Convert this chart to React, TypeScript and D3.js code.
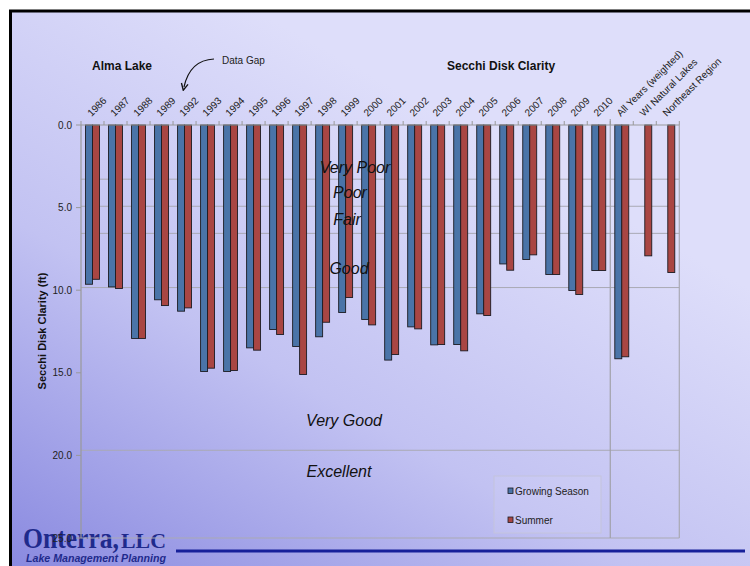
import React from "react";
import * as d3 from "d3";

// Secchi disk clarity (ft), Alma Lake
const categories = [
  "1986", "1987", "1988", "1989", "1992", "1993", "1994", "1995", "1996", "1997",
  "1998", "1999", "2000", "2001", "2002", "2003", "2004", "2005", "2006", "2007",
  "2008", "2009", "2010", "All Years (weighted)", "WI Natural Lakes", "Northeast Region",
];
const growingSeason: (number | null)[] = [
  9.64, 9.8, 12.92, 10.58, 11.27, 14.92, 14.92, 13.49, 12.38, 13.41,
  12.82, 11.35, 11.77, 14.23, 12.22, 13.31, 13.29, 11.43, 8.41, 8.14,
  9.05, 10.02, 8.81, 14.15, null, null,
];
const summer: (number | null)[] = [
  9.34, 9.9, 12.92, 10.93, 11.07, 14.72, 14.86, 13.63, 12.68, 15.1,
  11.94, 10.44, 12.1, 13.89, 12.34, 13.29, 13.67, 11.53, 8.79, 7.86,
  9.05, 10.26, 8.81, 14.03, 7.92, 8.93,
];
const seriesNames = ["Growing Season", "Summer"];
const yTicks = [0, 5, 10, 15, 20, 25];
// Trophic class boundaries: 1, 1.5, 2, 3 and 6 m expressed in feet
const classBoundaries = [3.28, 4.92, 6.56, 9.84, 19.69];
const classNames = ["Very Poor", "Poor", "Fair", "Good", "Very Good", "Excellent"];

const W = 750;
const H = 566;
const plot = { left: 81, right: 679.3, top: 125, bottom: 538 };
const colors = ["#4a74a8", "#a94643"];
const font = "Arial, 'Liberation Sans', Helvetica, sans-serif";
const serif = "'Liberation Serif', 'DejaVu Serif', serif";

// where each class label sits: depth (ft) and horizontal centre
const classLabelPos = [
  { d: 2.55, x: 355 },
  { d: 4.1, x: 350 },
  { d: 5.75, x: 347 },
  { d: 8.7, x: 349 },
  { d: 17.9, x: 344 },
  { d: 21.0, x: 339 },
];

export default function App() {
  const x = d3.scaleBand<string>().domain(categories).range([plot.left, plot.right]).padding(0);
  const xs = d3
    .scaleBand<string>()
    .domain(seriesNames)
    .range([0, x.bandwidth()])
    .paddingInner(0)
    .paddingOuter(0.65);
  const y = d3.scaleLinear().domain([0, 25]).range([plot.top, plot.bottom]);

  const seriesData = [growingSeason, summer];
  const nYears = categories.indexOf("All Years (weighted)");
  const sepX = x(categories[nYears])!;

  return (
    <svg
      width={W}
      height={H}
      style={{ position: "absolute", left: 0, top: 0, display: "block" }}
      fontFamily={font}
    >
      <defs>
        <linearGradient id="bg" x1="0" y1="1" x2="0.6" y2="0.2">
          <stop offset="0" stopColor="#8a8ae0" />
          <stop offset="0.5" stopColor="#c2c2f2" />
          <stop offset="1" stopColor="#dedefa" />
        </linearGradient>
        <marker id="arrow" viewBox="0 0 10 10" refX="5" refY="5" markerWidth="7" markerHeight="7" orient="auto">
          <path d="M1,1 L9,5 L1,9" fill="none" stroke="#111" strokeWidth="1.6" />
        </marker>
      </defs>

      <rect x={0} y={0} width={W} height={H} fill="#ffffff" />
      <rect x={11} y={11} width={W - 11} height={H - 11} fill="url(#bg)" />
      <line x1={9} x2={W} y1={11} y2={11} stroke="#000" strokeWidth={3} />
      <line x1={10.5} x2={10.5} y1={10} y2={H} stroke="#000" strokeWidth={3} />

      {/* company mark */}
      <g fill="#1f2a8c">
        <text x={23} y={548} fontFamily={serif} fontWeight="bold" fontSize={30} textLength={96} lengthAdjust="spacingAndGlyphs">
          Onterra,
        </text>
        <text x={121} y={548} fontFamily={serif} fontWeight="bold" fontSize={21} textLength={45} lengthAdjust="spacingAndGlyphs">
          LLC
        </text>
        <text x={26} y={562} fontWeight="bold" fontStyle="italic" fontSize={11} textLength={140} lengthAdjust="spacingAndGlyphs">
          Lake Management Planning
        </text>
      </g>
      <line x1={176} x2={745} y1={551} y2={551} stroke="#17209a" strokeWidth={3} />

      {/* titles */}
      <text x={92} y={70} fontSize={12} fontWeight="bold" fill="#111">Alma Lake</text>
      <text x={447} y={70} fontSize={12} fontWeight="bold" fill="#111">Secchi Disk Clarity</text>
      <text x={222} y={64} fontSize={10} fill="#222">Data Gap</text>
      <path d="M214,59 Q190,60 184,87" fill="none" stroke="#111" strokeWidth={1.2} markerEnd="url(#arrow)" />

      {/* class boundary lines */}
      {classBoundaries.map((b, i) => (
        <line key={i} x1={plot.left} x2={plot.right} y1={y(b)} y2={y(b)} stroke="#a9a9b4" strokeWidth={1} />
      ))}

      {/* plot frame */}
      <line x1={plot.left} x2={plot.right} y1={plot.bottom} y2={plot.bottom} stroke="#a9a9b4" strokeWidth={1.2} />
      <line x1={plot.right} x2={plot.right} y1={plot.top} y2={plot.bottom} stroke="#a9a9b4" strokeWidth={1.2} />
      <line x1={sepX} x2={sepX} y1={119} y2={plot.bottom} stroke="#a0a0a8" strokeWidth={1.2} />

      {/* bars */}
      {seriesData.map((vals, si) =>
        vals.map((v, ci) =>
          v == null ? null : (
            <rect
              key={`${si}-${ci}`}
              x={x(categories[ci])! + xs(seriesNames[si])!}
              y={y(0)}
              width={xs.bandwidth()}
              height={y(v) - y(0)}
              fill={colors[si]}
              stroke="#1b1b22"
              strokeWidth={0.9}
            />
          )
        )
      )}

      {/* top category axis */}
      <line x1={plot.left} x2={plot.right} y1={plot.top} y2={plot.top} stroke="#999" strokeWidth={1.2} />
      {categories.map((c) => (
        <line key={c} x1={x(c)!} x2={x(c)!} y1={plot.top - 4} y2={plot.top} stroke="#999" strokeWidth={1} />
      ))}
      <line x1={plot.right} x2={plot.right} y1={plot.top - 4} y2={plot.top} stroke="#999" strokeWidth={1} />
      {categories.map((c) => {
        const cx = x(c)! + x.bandwidth() / 2 - 1;
        const cy = plot.top - 8;
        return (
          <text key={c} x={cx} y={cy} fontSize={10} fill="#222" transform={`rotate(-45 ${cx} ${cy})`}>
            {c}
          </text>
        );
      })}

      {/* left value axis */}
      <line x1={plot.left} x2={plot.left} y1={plot.top} y2={plot.bottom} stroke="#999" strokeWidth={1.2} />
      {yTicks.map((t) => (
        <g key={t}>
          <line x1={plot.left - 5} x2={plot.left} y1={y(t)} y2={y(t)} stroke="#999" strokeWidth={1} />
          <text x={72} y={y(t) + 3.5} fontSize={10} textAnchor="end" fill="#222">
            {d3.format(".1f")(t)}
          </text>
        </g>
      ))}
      <text
        x={46}
        y={331}
        fontSize={11}
        fontWeight="bold"
        textAnchor="middle"
        fill="#111"
        transform="rotate(-90 46 331)"
      >
        Secchi Disk Clarity (ft)
      </text>

      {/* trophic class labels */}
      {classNames.map((n, i) => (
        <text
          key={n}
          x={classLabelPos[i].x}
          y={y(classLabelPos[i].d) + 5.5}
          fontSize={16}
          fontStyle="italic"
          textAnchor="middle"
          fill="#111"
        >
          {n}
        </text>
      ))}

      {/* legend */}
      <rect x={494} y={476} width={107} height={57} fill="rgba(255,255,255,0.08)" stroke="#c4c4dc" strokeWidth={1} />
      {seriesNames.map((s, i) => (
        <g key={s}>
          <rect x={508} y={488 + i * 29} width={5} height={5.5} fill={colors[i]} stroke="#1b1b22" strokeWidth={0.8} />
          <text x={515} y={494.5 + i * 29} fontSize={10} fill="#222">
            {s}
          </text>
        </g>
      ))}
    </svg>
  );
}
